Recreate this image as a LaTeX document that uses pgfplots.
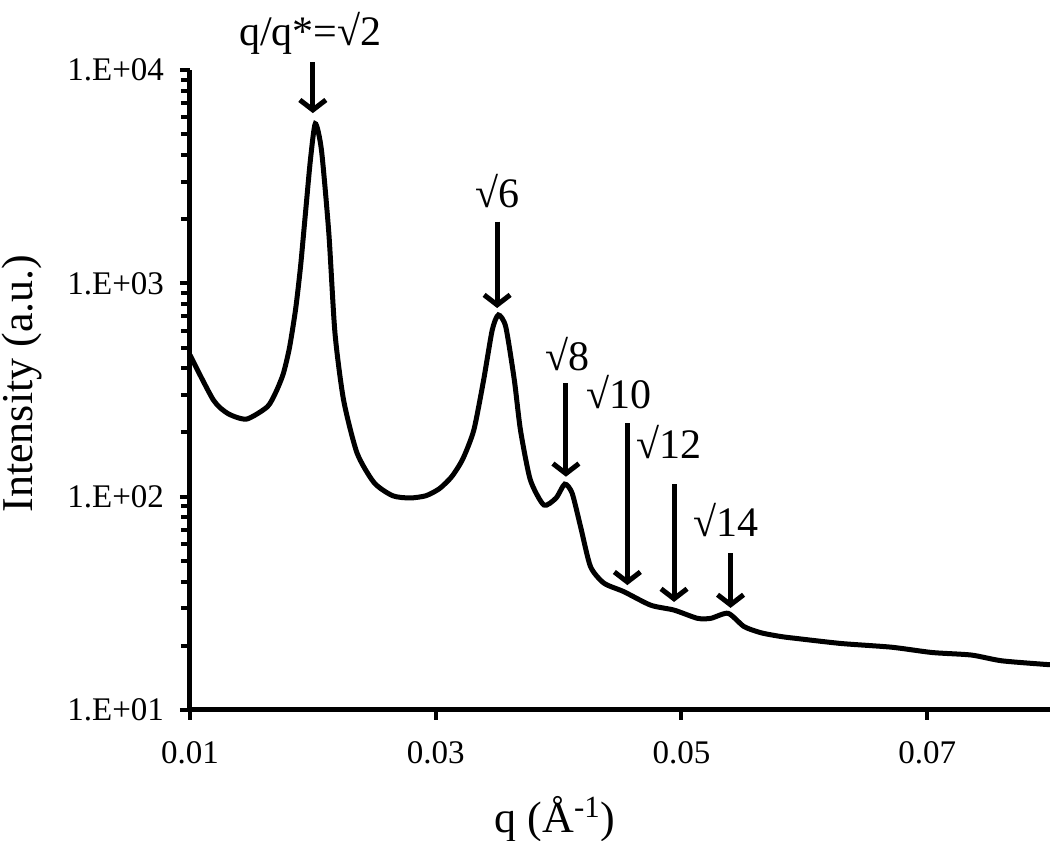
\documentclass[border=0pt]{standalone}
\usepackage{fontspec}
\setmainfont{Liberation Serif}
\usepackage{pgfplots}
\pgfplotsset{compat=1.18}
\usetikzlibrary{arrows.meta}
\pgfplotstableread{
q I
0.0100 461
0.0119 284
0.0131 245
0.0146 231
0.0163 264
0.0170 310
0.0176 378
0.0181 500
0.0186 759
0.0190 1202
0.0194 2138
0.0198 3784
0.0202 5600
0.0207 4217
0.0213 1722
0.0218 585
0.0225 284
0.0236 160
0.0250 116
0.0265 101
0.0279 98.6
0.0292 101
0.0303 109
0.0313 124
0.0322 150
0.0331 205
0.0339 352
0.0346 604
0.0351 711
0.0357 626
0.0364 352
0.0369 205
0.0377 120
0.0388 91.4
0.0398 98.6
0.0405 114.5
0.0411 104
0.0418 72
0.0426 47
0.0437 39.3
0.0453 35.9
0.0475 31.0
0.0494 29.4
0.0513 26.9
0.0524 26.9
0.0538 28.4
0.0551 24.6
0.0565 23.0
0.0581 22.1
0.0592 21.7
0.0630 20.5
0.0671 19.7
0.0704 18.6
0.0736 18.1
0.0761 17.0
0.0800 16.3
}\saxs
\begin{document}
\begin{tikzpicture}
\begin{axis}[
  name=ax,
  at={(0,0)}, anchor=south west,
  scale only axis,
  width=430pt, height=320pt,
  ymode=log,
  xmin=0.01, xmax=0.08,
  ymin=10, ymax=10000,
  axis x line=bottom, axis y line=left,
  axis line style={-, line width=2.5pt},
  every tick/.style={black, line width=2pt},
  tick align=outside,
  major tick length=5pt, minor tick length=4.5pt,
  scaled x ticks=false,
  xtick={0.01,0.03,0.05,0.07},
  xticklabels={0.01,0.03,0.05,0.07},
  ytick={10,100,1000,10000},
  yticklabels={1.E+01,1.E+02,1.E+03,1.E+04},
  tick label style={font=\fontsize{16.5}{18}\selectfont},
  xticklabel style={yshift=-7.5pt},
  yticklabel style={xshift=-4.5pt},
  xlabel={q (Å\textsuperscript{-1})},
  ylabel={Intensity (a.u.)},
  label style={font=\fontsize{22}{26}\selectfont},
  xlabel style={at={(axis description cs:0.4244,-0.170)}, anchor=center},
  ylabel style={at={(axis description cs:-0.195,0.51)}, anchor=center, rotate=0},
  clip=false,
]
\addplot[black, line width=2.5pt, smooth, tension=0.4, no marks] table[x=q, y=I] {\saxs};
\begin{scope}[line width=2.5pt, -{Straight Barb[length=5pt,width=13pt]}]
\draw (axis cs:0.0200,10900) -- (axis cs:0.0200,6280);
\draw (axis cs:0.0350,1945) -- (axis cs:0.0350,766);
\draw (axis cs:0.0406,341) -- (axis cs:0.0406,124);
\draw (axis cs:0.0456,221) -- (axis cs:0.0456,38.5);
\draw (axis cs:0.0494,114.6) -- (axis cs:0.0494,32.1);
\draw (axis cs:0.0540,54.4) -- (axis cs:0.0540,30.1);
\end{scope}
\begin{scope}[every node/.style={font=\fontsize{21}{24}\selectfont, inner sep=0pt}]
\node at (axis cs:0.0198,14910) {q/q*=√2};
\node at (axis cs:0.0350,2710) {√6};
\node at (axis cs:0.0407,467) {√8};
\node at (axis cs:0.0449,309) {√10};
\node at (axis cs:0.0490,180) {√12};
\node at (axis cs:0.0536,77.7) {√14};
\end{scope}
\end{axis}
\pgfresetboundingbox
\useasboundingbox (-95pt,-65.5pt) rectangle (430pt,355pt);
\end{tikzpicture}
\end{document}
